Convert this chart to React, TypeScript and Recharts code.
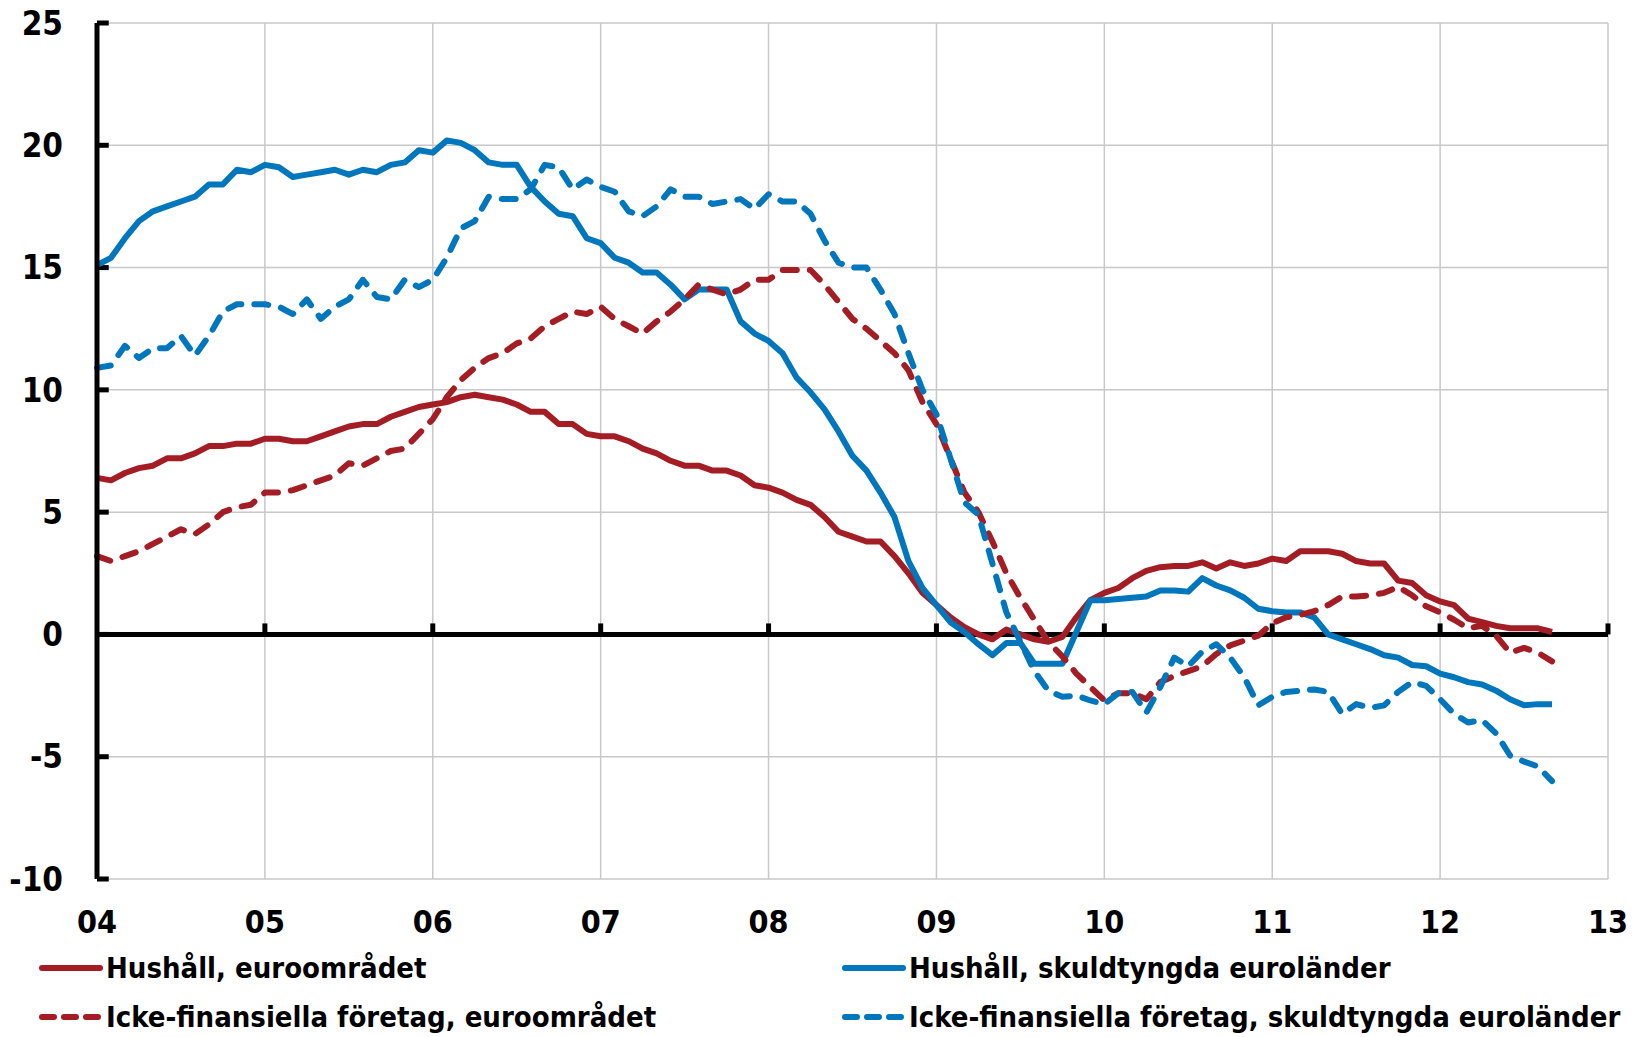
import React from 'react';
import { LineChart, Line, XAxis, YAxis, CartesianGrid, ReferenceLine } from 'recharts';

// monthly, Jan 2004 .. Sep 2012 (annual growth, %)
const START_YEAR = 2004;
const years = [2004, 2005, 2006, 2007, 2008, 2009, 2010, 2011, 2012, 2013];
const yTicks = [-10, -5, 0, 5, 10, 15, 20, 25];

const hhEuro = [
  6.4, 6.3, 6.6, 6.8, 6.9, 7.2, 7.2, 7.4, 7.7, 7.7, 7.8, 7.8,
  8.0, 8.0, 7.9, 7.9, 8.1, 8.3, 8.5, 8.6, 8.6, 8.9, 9.1, 9.3,
  9.4, 9.5, 9.7, 9.8, 9.7, 9.6, 9.4, 9.1, 9.1, 8.6, 8.6, 8.2,
  8.1, 8.1, 7.9, 7.6, 7.4, 7.1, 6.9, 6.9, 6.7, 6.7, 6.5, 6.1,
  6.0, 5.8, 5.5, 5.3, 4.8, 4.2, 4.0, 3.8, 3.8, 3.2, 2.5, 1.7,
  1.2, 0.7, 0.3, 0.0, -0.2, 0.2, 0.0, -0.2, -0.3, -0.1, 0.7, 1.4,
  1.7, 1.9, 2.3, 2.6, 2.75, 2.8, 2.8, 2.95, 2.7, 2.95, 2.8, 2.9,
  3.1, 3.0, 3.4, 3.4, 3.4, 3.3, 3.0, 2.9, 2.9, 2.2, 2.1, 1.6,
  1.35, 1.2, 0.65, 0.5, 0.35, 0.25, 0.25, 0.25, 0.1,
];

const hhDebt = [
  15.1, 15.4, 16.2, 16.9, 17.3, 17.5, 17.7, 17.9, 18.4, 18.4, 19.0, 18.9,
  19.2, 19.1, 18.7, 18.8, 18.9, 19.0, 18.8, 19.0, 18.9, 19.2, 19.3, 19.8,
  19.7, 20.2, 20.1, 19.8, 19.3, 19.2, 19.2, 18.3, 17.7, 17.2, 17.1, 16.2,
  16.0, 15.4, 15.2, 14.8, 14.8, 14.3, 13.7, 14.1, 14.1, 14.1, 12.8, 12.3,
  12.0, 11.5, 10.5, 9.9, 9.2, 8.3, 7.3, 6.7, 5.8, 4.8, 3.0, 1.9,
  1.2, 0.5, 0.1, -0.4, -0.85, -0.35, -0.35, -1.2, -1.2, -1.2, 0.1, 1.4,
  1.4, 1.45, 1.5, 1.55, 1.8, 1.8, 1.75, 2.3, 2.0, 1.8, 1.5, 1.05,
  0.95, 0.9, 0.9, 0.7, 0.0, -0.2, -0.4, -0.6, -0.85, -0.95, -1.25, -1.3,
  -1.6, -1.75, -1.95, -2.05, -2.3, -2.65, -2.9, -2.85, -2.85,
];

const nfcEuro = [
  3.2, 3.0, 3.2, 3.4, 3.7, 4.0, 4.3, 4.1, 4.5, 5.0, 5.2, 5.3,
  5.8, 5.8, 5.9, 6.1, 6.3, 6.5, 7.0, 6.9, 7.2, 7.5, 7.6, 8.2,
  8.8, 9.7, 10.4, 10.9, 11.3, 11.5, 11.9, 12.1, 12.6, 12.9, 13.2, 13.1,
  13.4, 12.9, 12.6, 12.3, 12.8, 13.2, 13.7, 14.3, 14.1, 13.9, 14.1, 14.5,
  14.5, 14.9, 14.9, 14.9, 14.3, 13.6, 12.9, 12.5, 12.0, 11.5, 10.8, 9.5,
  8.6, 7.2, 5.8, 5.0, 3.8, 2.5, 1.5, 0.6, -0.3, -0.9, -1.6, -2.15,
  -2.7, -2.4, -2.4, -2.65, -1.95, -1.7, -1.5, -1.3, -0.8, -0.45, -0.25, -0.05,
  0.45, 0.7, 0.8, 0.95, 1.2, 1.55, 1.55, 1.6, 1.7, 1.95, 1.6, 1.15,
  0.9, 0.6, 0.25, 0.35, -0.05, -0.75, -0.55, -0.75, -1.1,
];

const nfcDebt = [
  10.9, 11.0, 11.8, 11.3, 11.7, 11.7, 12.2, 11.4, 12.2, 13.2, 13.5, 13.5,
  13.5, 13.4, 13.1, 13.7, 12.9, 13.4, 13.7, 14.5, 13.8, 13.7, 14.5, 14.2,
  14.5, 15.4, 16.6, 16.9, 17.9, 17.8, 17.8, 18.2, 19.2, 19.1, 18.2, 18.6,
  18.3, 18.1, 17.3, 17.1, 17.5, 18.2, 17.9, 17.9, 17.6, 17.7, 17.8, 17.4,
  18.0, 17.7, 17.7, 17.2, 16.1, 15.2, 15.0, 15.0, 14.1, 13.1, 11.5, 10.0,
  9.0, 7.2, 5.4, 4.9, 2.9, 0.9, -0.3, -1.5, -2.3, -2.55, -2.5, -2.7,
  -2.85, -2.4, -2.35, -3.2, -2.15, -0.95, -1.3, -0.7, -0.4, -0.95, -1.75, -2.9,
  -2.55, -2.35, -2.3, -2.25, -2.35, -3.25, -2.85, -3.0, -2.9, -2.35, -1.95, -2.1,
  -2.65, -3.25, -3.6, -3.5, -4.05, -4.95, -5.2, -5.4, -6.0,
];

const RED = '#a51d24';
const BLUE = '#0077bd';
const FONT = "'DejaVu Sans Condensed', 'Liberation Sans Narrow', 'DejaVu Sans', sans-serif";
const DASH = '14 13';

const series = [
  { key: 'hhEuro', name: 'Hushåll, euroområdet', color: RED, dash: undefined },
  { key: 'hhDebt', name: 'Hushåll, skuldtyngda euroländer', color: BLUE, dash: undefined },
  { key: 'nfcEuro', name: 'Icke-finansiella företag, euroområdet', color: RED, dash: DASH },
  { key: 'nfcDebt', name: 'Icke-finansiella företag, skuldtyngda euroländer', color: BLUE, dash: DASH },
];

const data = hhEuro.map((v, i) => ({
  t: START_YEAR + i / 12,
  hhEuro: v,
  hhDebt: hhDebt[i],
  nfcEuro: nfcEuro[i],
  nfcDebt: nfcDebt[i],
}));

const XTick = (props: any) => {
  const { x, y, payload } = props;
  return (
    <text x={x} y={y + 52} textAnchor="middle" fill="#000" fontSize={32} fontWeight={700} fontFamily={FONT}>
      {String(payload.value).slice(2)}
    </text>
  );
};

export default function App() {
  return (
    <div style={{ position: 'absolute', left: 0, top: 0, width: 1640, height: 1037, background: '#fff' }}>
      <LineChart width={1640} height={1037} data={data} margin={{ top: 23, right: 32, bottom: 0, left: 0 }}>
        <CartesianGrid stroke="#c8c8c8" strokeWidth={1.5} />
        <XAxis
          dataKey="t"
          type="number"
          domain={[2004, 2013]}
          ticks={years}
          axisLine={false}
          tickLine={false}
          tickSize={0}
          height={158}
          tick={<XTick />}
        />
        <YAxis
          type="number"
          domain={[-10, 25]}
          ticks={yTicks}
          width={97}
          axisLine={{ stroke: '#000', strokeWidth: 5 }}
          tickLine={false}
          tickSize={0}
          tickMargin={34}
          tick={{ fill: '#000', fontSize: 33, fontWeight: 700, fontFamily: FONT }}
        />
        <ReferenceLine y={0} stroke="#000" strokeWidth={5} />
        {years.slice(1).map((yr) => (
          <ReferenceLine key={`xt-${yr}`} segment={[{ x: yr, y: 0 }, { x: yr, y: 0.45 }]} stroke="#000" strokeWidth={5} />
        ))}
        {yTicks.map((v) => (
          <ReferenceLine key={`yt-${v}`} segment={[{ x: 2004, y: v }, { x: 2004.07, y: v }]} stroke="#000" strokeWidth={5} />
        ))}
        {series.map((s) => (
          <Line
            key={s.key}
            type="linear"
            dataKey={s.key}
            stroke={s.color}
            strokeWidth={6}
            strokeDasharray={s.dash}
            strokeLinecap={s.dash ? 'round' : 'butt'}
            strokeLinejoin="round"
            dot={false}
            activeDot={false}
            isAnimationActive={false}
          />
        ))}
      </LineChart>
      {series.map((s, i) => (
        <div
          key={s.key}
          style={{
            position: 'absolute',
            left: i % 2 === 0 ? 38 : 841,
            top: i < 2 ? 948 : 997,
            height: 40,
            display: 'flex',
            alignItems: 'center',
            fontFamily: FONT,
            fontWeight: 700,
            fontSize: 29,
            letterSpacing: 0,
            color: '#000',
            whiteSpace: 'nowrap',
          }}
        >
          <svg width={66} height={12} style={{ marginRight: 2 }}>
            <line x1={4} y1={6} x2={62} y2={6} stroke={s.color} strokeWidth={6} strokeLinecap="round" strokeDasharray={s.dash ? '12 10' : undefined} />
          </svg>
          {s.name}
        </div>
      ))}
    </div>
  );
}
